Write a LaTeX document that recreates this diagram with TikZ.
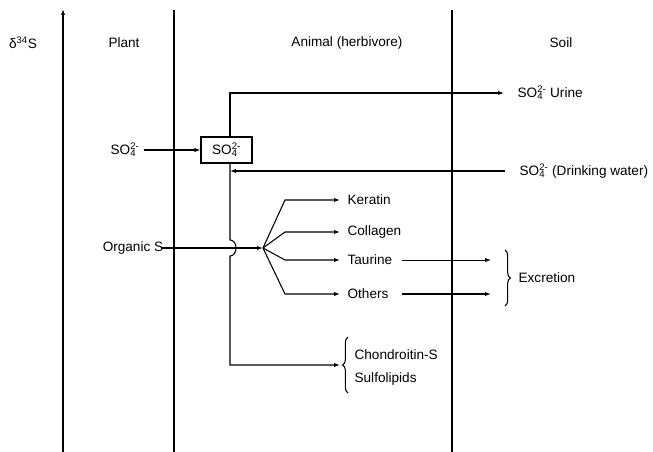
\documentclass[tikz,border=0pt]{standalone}
\usepackage{fontspec}
\setmainfont{Liberation Sans}
\usetikzlibrary{arrows.meta,decorations.pathreplacing}
\newcommand{\sulf}{SO\rlap{\textsubscript{4}}\textsuperscript{2-}}

\begin{document}
\begin{tikzpicture}[x=0.75pt, y=-0.75pt, every node/.style={font=\fontsize{10.2}{12}\selectfont, inner sep=1pt},
  ln/.style={line width=0.8pt},
  ar/.style={ln, -{Latex[length=4.5pt,width=3.2pt]}},
  lb/.style={anchor=west},
  br/.style={ln, decorate, decoration={brace, amplitude=4pt}}]
\useasboundingbox (0,0) rectangle (653,452);
\node (delta) at (23,43) {δ\textsuperscript{34}S};
\node (plant) at (124,43) {Plant};
\node (animal) at (347,43) {Animal (herbivore)};
\node (soil) at (561,43) {Soil};
\coordinate (axbot) at (63,452);
\coordinate (axtop) at (63,9);
\coordinate (pltop) at (174,10);
\coordinate (plbot) at (174,452);
\coordinate (sltop) at (452,10);
\coordinate (slbot) at (452,452);
\draw[ar] (axbot) -- (axtop);
\draw[ln] (pltop) -- (plbot);
\draw[ln] (sltop) -- (slbot);
\node (so4p) at (125,150) {\sulf};
\node[draw, ln, minimum width=38.25pt, minimum height=19.5pt] (box) at (226.5,150) {\sulf};
\draw[ar] ([xshift=2pt]so4p.east) -- (box.west);
\coordinate (main) at (230,93);
\node[lb] (urine) at (516,93) {\sulf{} Urine};
\node[lb] (water) at (518,171) {\sulf{} (Drinking water)};
\draw[ar, line width=1pt] (box.north -| main) -- (main) -- ([xshift=-9pt]urine.west);
\draw[ar] ([xshift=-10pt]water.west) -- (water.west -| main);
\coordinate (bump) at (230,240);
\coordinate (low) at (230,365);
\node[lb] (chon) at (353,355) {Chondroitin-S};
\node[lb] (sulfo) at (353,379) {Sulfolipids};
\draw[ar] (box.south -| main) -- (bump) .. controls ++(8,0) and (238,256) .. (230,256) -- (low) -- (low -| 340,0);
\draw[br] (348,393) -- (348,337);
\node (orgS) at (133,248) {Organic S};
\coordinate (fan) at (263,248);
\draw[ar] ([xshift=-2pt]orgS.east) -- (fan);
\coordinate (kink) at (285,0);
\node[lb] (ker) at (346,200) {Keratin};
\node[lb] (col) at (346,232) {Collagen};
\node[lb] (tau) at (346,260) {Taurine};
\node[lb] (oth) at (346,294) {Others};
\foreach \n in {ker,col,tau,oth}
  \draw[ar] (fan) -- (\n.west -| kink) -- ([xshift=-4.5pt]\n.west);
\coordinate (exs) at (402,0);
\coordinate (exe) at (491,0);
\draw[ar, line width=0.6pt] (tau.east -| exs) -- (tau.east -| exe);
\draw[ar, line width=1pt] (oth.east -| exs) -- (oth.east -| exe);
\draw[br] (505,250) -- (505,306);
\node[lb] (excr) at (517,278) {Excretion};
\end{tikzpicture}
\end{document}
